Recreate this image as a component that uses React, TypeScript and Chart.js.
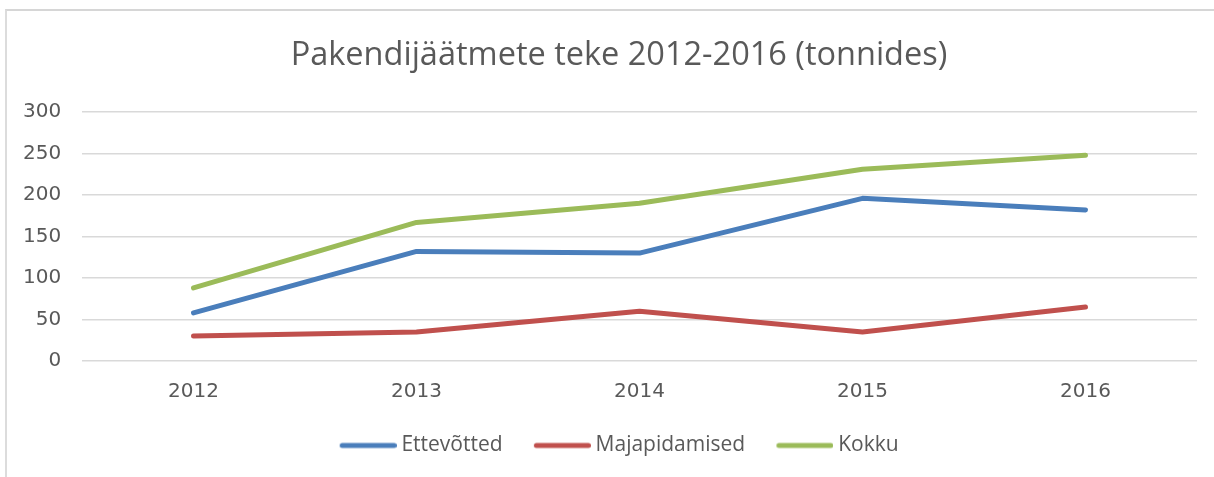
import React, { useEffect, useRef } from "react";
import { Chart, registerables } from "chart.js";

Chart.register(...registerables);

const categories = ["2012", "2013", "2014", "2015", "2016"];
const ettevotted = [58, 132, 130, 196, 182];
const majapidamised = [30, 35, 60, 35, 65];
const kokku = [88, 167, 190, 231, 248];
const seriesNames = ["Ettevõtted", "Majapidamised", "Kokku"];
const seriesColors = ["#4A7EBB", "#C0504D", "#9BBB59"];
const titleText = "Pakendijäätmete teke 2012-2016 (tonnides)";

function legendMarker(color: string): HTMLCanvasElement {
  const c = document.createElement("canvas");
  c.width = 63;
  c.height = 8;
  const ctx = c.getContext("2d");
  if (ctx) {
    ctx.strokeStyle = color;
    ctx.lineWidth = 5;
    ctx.lineCap = "round";
    ctx.beginPath();
    ctx.moveTo(8.5, 4);
    ctx.lineTo(60.5, 4);
    ctx.stroke();
  }
  return c;
}

export default function App() {
  const ref = useRef<HTMLCanvasElement | null>(null);

  useEffect(() => {
    if (!ref.current) return;
    const values = [ettevotted, majapidamised, kokku];
    const chart = new Chart(ref.current, {
      type: "line",
      data: {
        labels: categories,
        datasets: values.map((v, i) => ({
          label: seriesNames[i],
          data: v,
          borderColor: seriesColors[i],
          backgroundColor: seriesColors[i],
          borderWidth: 5,
          pointRadius: 0,
          pointHoverRadius: 0,
          pointStyle: legendMarker(seriesColors[i]),
          tension: 0,
          borderCapStyle: "round" as const,
          borderJoinStyle: "round" as const,
        })),
      },
      options: {
        animation: false,
        responsive: false,
        maintainAspectRatio: false,
        layout: { padding: { left: 41, right: 17, top: 10, bottom: 11 } },
        plugins: {
          tooltip: { enabled: false },
          title: {
            display: true,
            text: titleText,
            color: "#595959",
            font: { family: "Open Sans", size: 32.5, weight: "normal" },
            padding: { top: 26, bottom: 37 },
          },
          legend: {
            position: "bottom",
            labels: {
              color: "#595959",
              font: { family: "Open Sans", size: 21 },
              usePointStyle: true,
              pointStyleWidth: 51.5,
              padding: 31,
            },
          },
        },
        scales: {
          x: {
            offset: true,
            afterFit: (s: any) => {
              s.height = 43;
            },
            grid: { display: false, drawTicks: false },
            border: { display: false },
            ticks: {
              color: "#595959",
              font: { family: "DejaVu Sans", size: 20 },
              padding: 19,
            },
          },
          y: {
            min: 0,
            max: 300,
            afterFit: (s: any) => {
              s.width = 41;
            },
            grid: { color: "#d9d9d9", lineWidth: 1.5, drawTicks: false },
            border: { display: false },
            ticks: {
              stepSize: 50,
              color: "#595959",
              font: { family: "DejaVu Sans", size: 20 },
              mirror: true,
              crossAlign: "far",
              padding: -59,
            },
          },
        },
      },
    });
    return () => chart.destroy();
  }, []);

  return (
    <div style={{ position: "absolute", left: 0, top: 0, width: 1214, height: 477, background: "#fff" }}>
      <div
        style={{
          position: "absolute",
          left: 5,
          top: 9,
          width: 1209,
          height: 468,
          boxSizing: "border-box",
          borderTop: "2px solid #d6d6d6",
          borderLeft: "2px solid #dcdcdc",
        }}
      />
      <canvas ref={ref} width={1214} height={477} style={{ position: "absolute", left: 0, top: 0 }} />
    </div>
  );
}
